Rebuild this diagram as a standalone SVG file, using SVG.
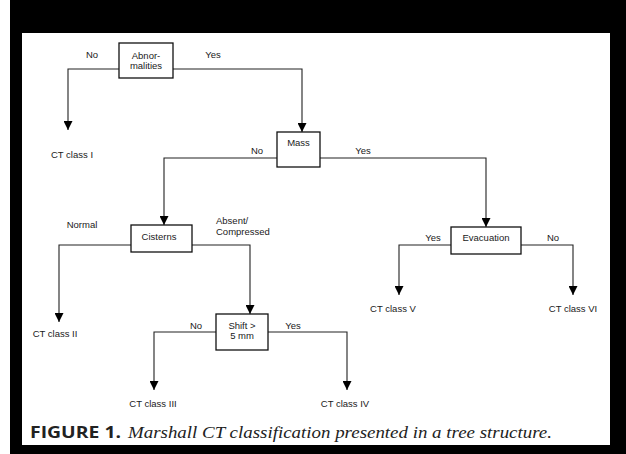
<svg xmlns="http://www.w3.org/2000/svg" width="626" height="454" viewBox="0 0 626 454">
<style>
.lbl{font-family:"Liberation Sans",Arial,sans-serif;font-size:9.5px;fill:#1a1a1a}
.mid{text-anchor:middle}
.box{fill:#fff;stroke:#111;stroke-width:1.3}
.con{fill:none;stroke:#222;stroke-width:1.1}
</style>
<defs>
<marker id="arr" viewBox="0 0 10 10" refX="10" refY="5" markerWidth="10" markerHeight="9" markerUnits="userSpaceOnUse" orient="auto">
<path d="M0,0 L10,5 L0,10 z" fill="#000"/>
</marker>
</defs>
<rect x="0" y="0" width="626" height="454" fill="#fff"/>
<rect x="10" y="0" width="616" height="454" fill="#000"/>
<rect x="22" y="33" width="588" height="412" fill="#fff"/>

<g id="connectors">
<path class="con" d="M119,69 H68 V130" marker-end="url(#arr)"/>
<path class="con" d="M173,69 H302 V132" marker-end="url(#arr)"/>
<path class="con" d="M277,158 H164 V225" marker-end="url(#arr)"/>
<path class="con" d="M320,158 H486 V227" marker-end="url(#arr)"/>
<path class="con" d="M131,245 H59 V322" marker-end="url(#arr)"/>
<path class="con" d="M192,245 H250 V314" marker-end="url(#arr)"/>
<path class="con" d="M451,245 H399 V295" marker-end="url(#arr)"/>
<path class="con" d="M521,245 H573 V295" marker-end="url(#arr)"/>
<path class="con" d="M216,332 H154 V390" marker-end="url(#arr)"/>
<path class="con" d="M268,332 H347 V390" marker-end="url(#arr)"/>
<text class="lbl mid" x="92" y="57.5">No</text>
<text class="lbl mid" x="213" y="57.5">Yes</text>
<text class="lbl mid" x="257" y="153.5">No</text>
<text class="lbl mid" x="363" y="153.5">Yes</text>
<text class="lbl mid" x="82" y="227.5">Normal</text>
<text class="lbl" x="216" y="223.5">Absent/</text>
<text class="lbl" x="216" y="234.5">Compressed</text>
<text class="lbl mid" x="433" y="241">Yes</text>
<text class="lbl mid" x="553" y="241">No</text>
<text class="lbl mid" x="196" y="328.5">No</text>
<text class="lbl mid" x="293" y="328.5">Yes</text>
</g>

<g id="abnormalities">
<rect class="box" x="119" y="43" width="54" height="35"/>
<text class="lbl mid" x="146" y="58.5">Abnor-</text>
<text class="lbl mid" x="146" y="69">malities</text>
</g>
<g id="mass">
<rect class="box" x="277" y="132" width="43" height="35"/>
<text class="lbl mid" x="298.5" y="145.5">Mass</text>
</g>
<g id="cisterns">
<rect class="box" x="131" y="225" width="61" height="27"/>
<text class="lbl mid" x="159" y="239.5">Cisterns</text>
</g>
<g id="evacuation">
<rect class="box" x="451" y="227" width="70" height="27"/>
<text class="lbl mid" x="486" y="240.5">Evacuation</text>
</g>
<g id="shift">
<rect class="box" x="216" y="314" width="52" height="36"/>
<text class="lbl mid" x="242" y="328.5">Shift &gt;</text>
<text class="lbl mid" x="242" y="339">5 mm</text>
</g>
<g id="ct1"><text class="lbl mid" x="72" y="158">CT class I</text></g>
<g id="ct2"><text class="lbl mid" x="55" y="336.5">CT class II</text></g>
<g id="ct3"><text class="lbl mid" x="153" y="406.5">CT class III</text></g>
<g id="ct4"><text class="lbl mid" x="345" y="406.5">CT class IV</text></g>
<g id="ct5"><text class="lbl mid" x="393" y="311.5">CT class V</text></g>
<g id="ct6"><text class="lbl mid" x="573" y="311.5">CT class VI</text></g>

<g id="caption">
<text x="30" y="438" font-family="'Open Sans','DejaVu Sans',sans-serif" font-weight="bold" font-size="15.5" fill="#222" textLength="91" lengthAdjust="spacingAndGlyphs">FIGURE 1.</text>
<text x="128" y="438" font-family="'Liberation Serif','Times New Roman',serif" font-style="italic" font-size="17" fill="#222" textLength="424" lengthAdjust="spacingAndGlyphs">Marshall CT classification presented in a tree structure.</text>
</g>
</svg>
